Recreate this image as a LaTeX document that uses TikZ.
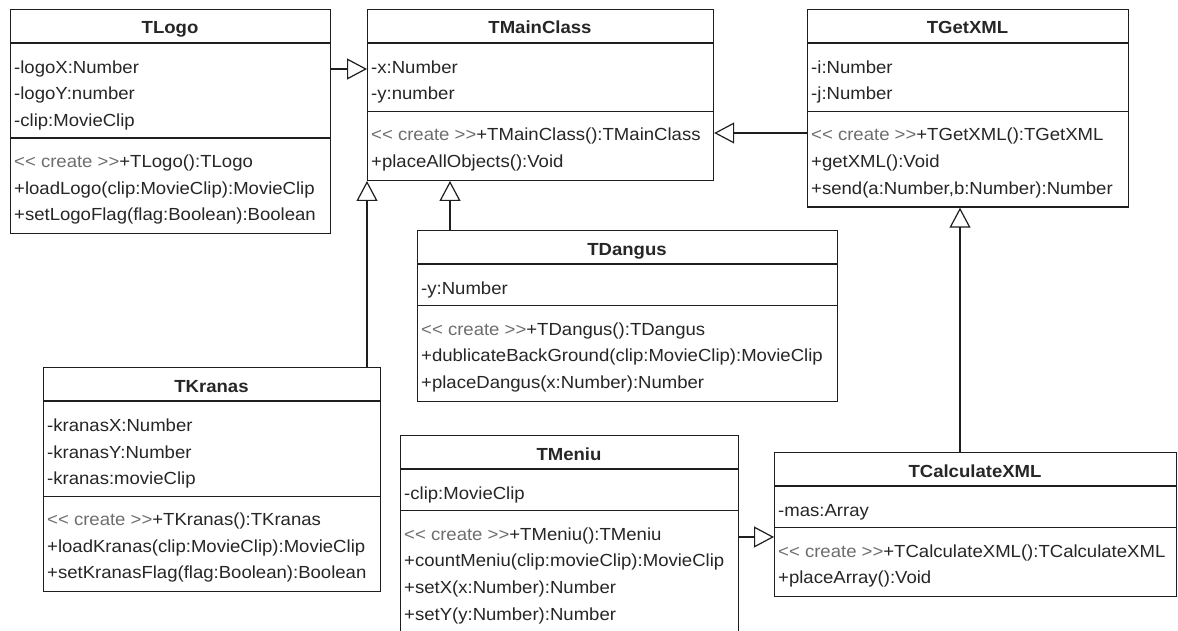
\documentclass[tikz,border=0pt]{standalone}
\usepackage{fontspec}
\setmainfont{Liberation Sans}[FakeStretch=1.06]
\usetikzlibrary{arrows.meta,calc}

\definecolor{ink}{HTML}{262626}
\definecolor{edge}{HTML}{1E1E1E}
\definecolor{stereo}{HTML}{6E6E6E}

% stereotype prefix of constructors
\newcommand\crt{\textcolor{stereo}{<\kern0pt< create >\kern0pt>}}

\tikzset{
  classbox/.style={draw=edge, line width=1.2pt, fill=white, inner sep=0pt,
    anchor=north west},
  sepline/.style={draw=edge, line width=1.2pt},
  ctitle/.style={anchor=base, inner sep=0pt, text=ink,
    font=\fontsize{17.5}{20}\selectfont\bfseries},
  crow/.style={anchor=base west, inner sep=0pt, text=ink,
    font=\fontsize{17.5}{20}\selectfont},
  gen/.style={draw=edge, line width=1.2pt,
    -{Triangle[open, length=20pt, width=21pt, line width=1.2pt]}},
}

% #1 name, #2 left, #3 right, #4 top, #5 title,
% #6 number of attributes, #7 attributes, #8 number of operations, #9 operations
\newcommand\umlclass[9]{%
  \pgfmathsetmacro\ya{#4+34}%
  \pgfmathsetmacro\yb{\ya+15+26.7*#6}%
  \pgfmathsetmacro\yc{\yb+15+26.7*#8}%
  \pgfmathsetmacro\bw{#3-#2}%
  \pgfmathsetmacro\bh{\yc-#4}%
  \node[classbox, minimum width=\bw pt, minimum height=\bh pt] (#1) at (#2,#4) {};
  \draw[sepline] (#2,\ya) -- (#3,\ya);
  \draw[sepline] (#2,\yb) -- (#3,\yb);
  \node[ctitle] (#1-title) at ({(#2+#3)/2}, #4+25) {#5};
  \foreach \t [count=\i from 0] in {#7}
    \node[crow] (#1-a\i) at (#2+4, \ya+30.3+26.7*\i) {\t};
  \foreach \t [count=\i from 0] in {#9}
    \node[crow] (#1-m\i) at (#2+4, \yb+29.3+26.7*\i) {\t};
}

\begin{document}
\begin{tikzpicture}[x=1pt, y=-1pt]
\useasboundingbox (0,0) rectangle (1178,631);
\fill[white] (0,0) rectangle (1178,631);
\clip (0,0) rectangle (1178,631);

\umlclass{TLogo}{10}{330}{9}{TLogo}
  {3}{-logoX:Number, -logoY:number, -clip:MovieClip}
  {3}{\crt+TLogo():TLogo, +loadLogo(clip:MovieClip):MovieClip,
      +setLogoFlag(flag:Boolean):Boolean}

\umlclass{TMainClass}{367}{713}{9}{TMainClass}
  {2}{-x:Number, -y:number}
  {2}{\crt+TMainClass():TMainClass, +placeAllObjects():Void}

\umlclass{TGetXML}{807}{1128}{9}{TGetXML}
  {2}{-i:Number, -j:Number}
  {3}{\crt+TGetXML():TGetXML, +getXML():Void,
      {+send(a:Number,b:Number):Number}}

\umlclass{TDangus}{417}{837}{230}{TDangus}
  {1}{-y:Number}
  {3}{\crt+TDangus():TDangus,
      +dublicateBackGround(clip:MovieClip):MovieClip,
      +placeDangus(x:Number):Number}

\umlclass{TKranas}{43}{380}{367}{TKranas}
  {3}{-kranasX:Number, -kranasY:Number, -kranas:movieClip}
  {3}{\crt+TKranas():TKranas, +loadKranas(clip:MovieClip):MovieClip,
      +setKranasFlag(flag:Boolean):Boolean}

\umlclass{TMeniu}{400}{738}{435}{TMeniu}
  {1}{-clip:MovieClip}
  {4}{\crt+TMeniu():TMeniu, +countMeniu(clip:movieClip):MovieClip,
      +setX(x:Number):Number, +setY(y:Number):Number}

\umlclass{TCalculateXML}{774}{1176}{452}{TCalculateXML}
  {1}{-mas:Array}
  {2}{\crt+TCalculateXML():TCalculateXML, +placeArray():Void}

% generalisations
\draw[gen] ([yshift=-60pt]TLogo.north east) -- ([yshift=-60pt]TMainClass.north west);
\draw[gen] ([yshift=-124pt]TGetXML.north west) -- ([yshift=-124pt]TMainClass.north east);
\coordinate (dAnchor) at ([xshift=33pt]TDangus.north west);
\draw[gen] (dAnchor) -- (dAnchor |- TMainClass.south);
\draw[gen] (TMainClass.south west |- TKranas.north) -- (TMainClass.south west);
\coordinate (mAnchor) at ([yshift=-102pt]TMeniu.north east);
\draw[gen] (mAnchor) -- (mAnchor -| TCalculateXML.west);
\coordinate (gAnchor) at ([xshift=153pt]TGetXML.south west);
\draw[gen] (gAnchor |- TCalculateXML.north) -- (gAnchor);
\end{tikzpicture}
\end{document}
